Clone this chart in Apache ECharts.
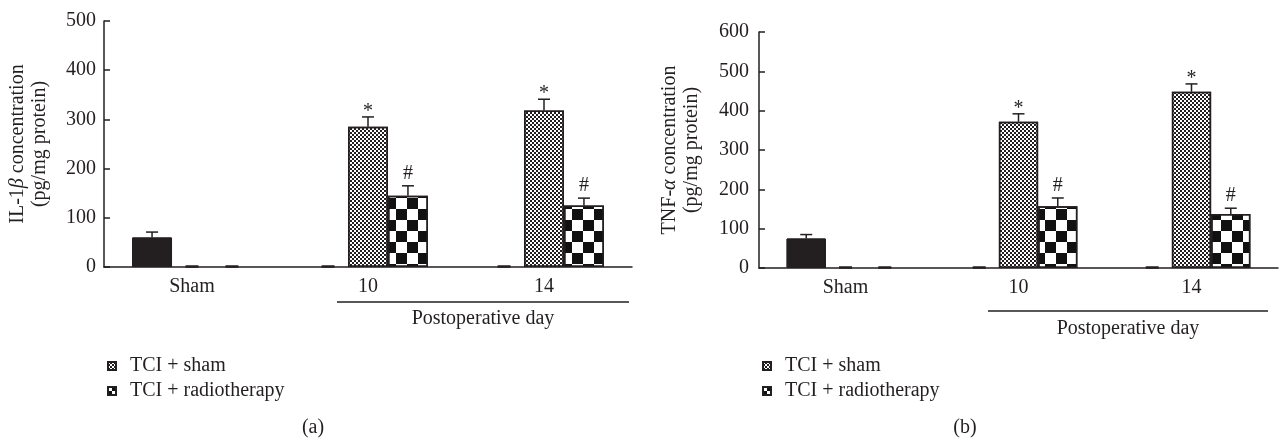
<!DOCTYPE html>
<html>
<head>
<meta charset="utf-8">
<script src="https://cdn.jsdelivr.net/npm/echarts@6/dist/echarts.min.js"></script>
<style>
  html, body { margin: 0; padding: 0; background: #fff; }
  #chart { width: 1281px; height: 441px; }
</style>
</head>
<body>
<div id="chart"></div>
<script>
// categories and groups
const categories = ['Sham', '10', '14']
const groupNames = ['Sham', 'TCI + sham', 'TCI + radiotherapy']
const legendNames = ['TCI + sham', 'TCI + radiotherapy']

// (a) IL-1beta, pg/mg protein
const il1bSham = [60, 0, 0]
const il1bTciSham = [0, 285, 318]
const il1bTciRadio = [0, 145, 125]
const il1bShamErr = [11, 0, 0]
const il1bTciShamErr = [0, 20, 23]
const il1bTciRadioErr = [0, 20, 15]

// (b) TNF-alpha, pg/mg protein
const tnfSham = [75, 0, 0]
const tnfTciSham = [0, 372, 448]
const tnfTciRadio = [0, 157, 137]
const tnfShamErr = [10, 0, 0]
const tnfTciShamErr = [0, 20, 20]
const tnfTciRadioErr = [0, 21, 15]

// significance marks per group
const marksSham = ['', '', '']
const marksTciSham = ['', '*', '*']
const marksTciRadio = ['', '#', '#']

const FONT = 'Liberation Serif'
const INK = '#231f20'
const BAR_RATIO = 0.227

// rotation set explicitly, otherwise aria's palette decal fills it in
const plainDecal = {
  symbol: 'rect', symbolSize: 1, color: 'rgba(0,0,0,0)', rotation: 0,
  dashArrayX: [4, 0], dashArrayY: [4, 0]
}
const dotDecal = {
  symbol: 'rect', symbolSize: 1, color: INK, rotation: 0,
  dashArrayX: [[2, 2], [0, 2, 2, 0]], dashArrayY: [2, 0]
}
const checkDecal = {
  symbol: 'rect', symbolSize: 1, color: '#111', rotation: 0,
  dashArrayX: [[11, 11], [0, 11, 11, 0]], dashArrayY: [11, 0]
}
// smaller checker so the 8px legend icon still shows it
const checkDecalSmall = {
  symbol: 'rect', symbolSize: 1, color: '#111', rotation: 0,
  dashArrayX: [[4, 4], [0, 4, 4, 0]], dashArrayY: [4, 0]
}
const groupStyles = [
  { color: INK, borderColor: INK, borderWidth: 1, decal: plainDecal },
  { color: '#fff', borderColor: INK, borderWidth: 1.5, decal: dotDecal },
  { color: '#fff', borderColor: INK, borderWidth: 1.5, decal: checkDecal }
]

const chart = echarts.init(document.getElementById('chart'))

function barSeries (gridIdx, groups) {
  return groups.map((vals, s) => ({
    name: groupNames[s],
    type: 'bar',
    xAxisIndex: gridIdx,
    yAxisIndex: gridIdx,
    barWidth: (BAR_RATIO * 100) + '%',
    barGap: '0%',
    itemStyle: groupStyles[s],
    emphasis: { disabled: true },
    data: vals.map(v => (v === 0 ? null : v))
  }))
}

// error bars, marks and the short dashes for zero values
function extraSeries (gridIdx, groups, errs) {
  const data = []
  const marks = []
  const markLists = [marksSham, marksTciSham, marksTciRadio]
  groups.forEach((vals, s) => {
    vals.forEach((v, c) => {
      data.push([c, s, v, errs[s][c]])
      marks.push(markLists[s][c])
    })
  })
  return {
    type: 'custom',
    xAxisIndex: gridIdx,
    yAxisIndex: gridIdx,
    silent: true,
    clip: false,
    z: 5,
    data,
    encode: { x: 0, y: 2 },
    renderItem (params, api) {
      const c = api.value(0)
      const s = api.value(1)
      const v = api.value(2)
      const e = api.value(3)
      const base = api.coord([c, 0])
      const bw = api.size([1, 0])[0] * BAR_RATIO
      const x = base[0] + (s - 1) * bw
      if (v === 0) {
        return {
          type: 'line',
          shape: { x1: x - 6.5, y1: base[1] - 0.5, x2: x + 6.5, y2: base[1] - 0.5 },
          style: { stroke: INK, lineWidth: 2.5 }
        }
      }
      const top = api.coord([c, v])
      const cap = api.coord([c, v + e])
      const children = [
        { type: 'line', shape: { x1: x, y1: top[1], x2: x, y2: cap[1] }, style: { stroke: INK, lineWidth: 1.5 } },
        { type: 'line', shape: { x1: x - 6, y1: cap[1], x2: x + 6, y2: cap[1] }, style: { stroke: INK, lineWidth: 1.5 } }
      ]
      const mark = marks[params.dataIndex]
      if (mark) {
        children.push({
          type: 'text',
          x: x,
          y: cap[1] - (mark === '*' ? 5 : 12),
          style: { text: mark, fontSize: 20, fontFamily: FONT, fill: INK, align: 'center', verticalAlign: 'middle' }
        })
      }
      return { type: 'group', children }
    }
  }
}

const axisText = { fontSize: 20, fontFamily: FONT, color: INK }

function xAxis (gridIdx) {
  return {
    type: 'category',
    gridIndex: gridIdx,
    data: categories,
    boundaryGap: true,
    axisLine: { lineStyle: { color: INK, width: 1.5 } },
    axisTick: { inside: true, length: 7, interval: 0, lineStyle: { color: INK, width: 1.5 } },
    axisLabel: { ...axisText, margin: 10, interval: 0 },
    splitLine: { show: false }
  }
}

function yAxis (gridIdx, max, name, gap, labelMargin) {
  return {
    type: 'value',
    gridIndex: gridIdx,
    min: 0,
    max: max,
    interval: 100,
    name: name,
    nameLocation: 'middle',
    nameGap: gap,
    nameTextStyle: {
      ...axisText,
      lineHeight: 22,
      rich: { i: { ...axisText, fontStyle: 'italic', lineHeight: 22 } }
    },
    axisLine: { show: true, lineStyle: { color: INK, width: 1.5 } },
    axisTick: { show: true, inside: true, length: 6, lineStyle: { color: INK, width: 1.5 } },
    axisLabel: { ...axisText, margin: labelMargin },
    splitLine: { show: false }
  }
}

function legend (left) {
  return {
    data: [
      { name: legendNames[0] },
      { name: legendNames[1], itemStyle: { decal: checkDecalSmall } }
    ],
    orient: 'vertical',
    left: left,
    top: 351,
    itemWidth: 8,
    itemHeight: 8,
    itemGap: 5,
    icon: 'rect',
    selectedMode: false,
    textStyle: { ...axisText, padding: [0, 0, 0, 9] }
  }
}

function text (x, y, str) {
  return {
    type: 'text', x, y,
    style: { text: str, fontSize: 20, fontFamily: FONT, fill: INK, align: 'center', verticalAlign: 'middle' }
  }
}

function rule (x1, x2, y) {
  return { type: 'line', shape: { x1, y1: y, x2, y2: y }, style: { stroke: INK, lineWidth: 1.5 } }
}

const groupsA = [il1bSham, il1bTciSham, il1bTciRadio]
const errsA = [il1bShamErr, il1bTciShamErr, il1bTciRadioErr]
const groupsB = [tnfSham, tnfTciSham, tnfTciRadio]
const errsB = [tnfShamErr, tnfTciShamErr, tnfTciRadioErr]

const option = {
  animation: false,
  aria: { enabled: true, decal: { show: true } },
  grid: [
    { left: 104, top: 21, width: 528, height: 246 },
    { left: 759, top: 32, width: 519, height: 236 }
  ],
  xAxis: [xAxis(0), xAxis(1)],
  yAxis: [
    yAxis(0, 500, 'IL-1{i|β} concentration\n(pg/mg protein)', 53, 8),
    yAxis(1, 600, 'TNF-{i|α} concentration\n(pg/mg protein)', 56, 10)
  ],
  legend: [legend(102), legend(757)],
  graphic: [
    rule(337, 629, 302),
    text(483, 319, 'Postoperative day'),
    rule(988, 1268, 311),
    text(1128, 329, 'Postoperative day'),
    text(313, 428, '(a)'),
    text(965, 428, '(b)')
  ],
  series: [
    ...barSeries(0, groupsA),
    extraSeries(0, groupsA, errsA),
    ...barSeries(1, groupsB),
    extraSeries(1, groupsB, errsB)
  ]
}

chart.setOption(option)
window.addEventListener('resize', () => chart.resize())
</script>
</body>
</html>
